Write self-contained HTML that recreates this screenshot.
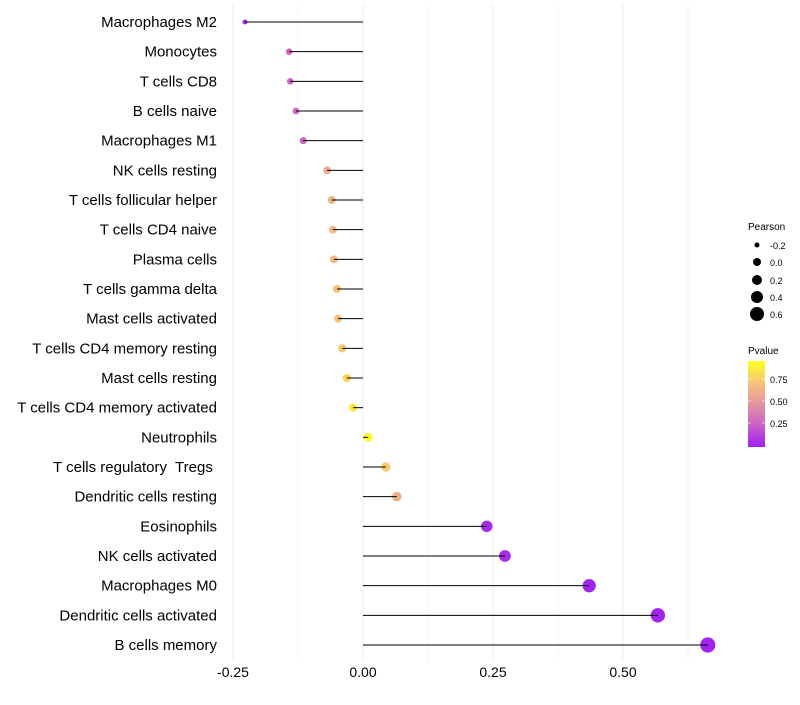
<!DOCTYPE html>
<html><head><meta charset="utf-8"><style>
body{margin:0;background:#fff;}
svg text{font-family:"Liberation Sans",sans-serif;white-space:pre;}
</style></head><body>
<svg id="chart" width="800" height="700">
<defs><linearGradient id="pg" x1="0" y1="1" x2="0" y2="0">
<stop offset="0" stop-color="#A020F0"/><stop offset="0.25" stop-color="#C95FC8"/><stop offset="0.5" stop-color="#E595A0"/><stop offset="0.75" stop-color="#F5C478"/><stop offset="1" stop-color="#FFFF20"/>
</linearGradient></defs>
<g id="grid"></g><g id="marks"></g><g id="labels"></g>
<g>
<text x="748" y="230" font-size="10">Pearson</text>
<circle cx="757" cy="245" r="2.5" fill="#000"/><text x="770" y="249" font-size="9">-0.2</text>
<circle cx="757" cy="262" r="4" fill="#000"/><text x="770" y="266" font-size="9">0.0</text>
<circle cx="757" cy="280" r="5" fill="#000"/><text x="770" y="284" font-size="9">0.2</text>
<circle cx="757" cy="297" r="6" fill="#000"/><text x="770" y="301" font-size="9">0.4</text>
<circle cx="757" cy="314" r="7" fill="#000"/><text x="770" y="318" font-size="9">0.6</text>
</g>
<g>
<text x="748" y="354" font-size="10">Pvalue</text>
<rect x="748" y="361" width="17" height="86" fill="url(#pg)"/>
<line x1="748" y1="379" x2="751" y2="379" stroke="#fff" opacity=".6"/><line x1="762" y1="379" x2="765" y2="379" stroke="#fff" opacity=".6"/>
<line x1="748" y1="401" x2="751" y2="401" stroke="#fff" opacity=".6"/><line x1="762" y1="401" x2="765" y2="401" stroke="#fff" opacity=".6"/>
<line x1="748" y1="423" x2="751" y2="423" stroke="#fff" opacity=".6"/><line x1="762" y1="423" x2="765" y2="423" stroke="#fff" opacity=".6"/>
<text x="770" y="383" font-size="9">0.75</text><text x="770" y="405" font-size="9">0.50</text><text x="770" y="427" font-size="9">0.25</text>
</g>
</svg>
<script>
const cells=["Macrophages M2","Monocytes","T cells CD8","B cells naive","Macrophages M1","NK cells resting","T cells follicular helper","T cells CD4 naive","Plasma cells","T cells gamma delta","Mast cells activated","T cells CD4 memory resting","Mast cells resting","T cells CD4 memory activated","Neutrophils","T cells regulatory  Tregs ","Dendritic cells resting","Eosinophils","NK cells activated","Macrophages M0","Dendritic cells activated","B cells memory"];
const pearson=[-0.227,-0.142,-0.140,-0.129,-0.115,-0.069,-0.060,-0.058,-0.056,-0.050,-0.048,-0.040,-0.031,-0.019,0.010,0.044,0.065,0.238,0.273,0.435,0.567,0.663];
const pvalue=[0.02,0.28,0.28,0.30,0.27,0.62,0.68,0.70,0.70,0.74,0.74,0.78,0.82,0.90,0.97,0.78,0.65,0.04,0.05,0.02,0.01,0.01];
const xticks=[-0.25,0,0.25,0.5];
const xtickLabels=["-0.25","0.00","0.25","0.50"];
const ns="http://www.w3.org/2000/svg";
const X=v=>363+v*520, Y=i=>22+i*29.667;
const R=v=>Math.sqrt(Math.max(19+58*v,2));
function col(p){const s=[[0,[160,32,240]],[0.25,[201,95,200]],[0.5,[229,149,160]],[0.75,[245,196,120]],[1,[255,255,32]]];
for(let i=0;i<4;i++){if(p<=s[i+1][0]){const t=(p-s[i][0])/(s[i+1][0]-s[i][0]);return 'rgb('+s[i][1].map((c,k)=>Math.round(c+(s[i+1][1][k]-c)*t)).join(',')+')';}}return 'rgb(255,255,32)';}
function mk(tag,a,parent){const e=document.createElementNS(ns,tag);for(const k in a)e.setAttribute(k,a[k]);document.getElementById(parent).appendChild(e);return e;}
[-0.25,-0.125,0,0.125,0.25,0.375,0.5,0.625].forEach(v=>{const l=mk('line',{x1:X(v),x2:X(v),y1:5,y2:660,stroke:(v*8)%2==0?'#ebebeb':'#f4f4f4','stroke-width':1},'grid');

});
xticks.forEach((v,i)=>{const t=mk('text',{x:X(v),y:677,'font-size':14,'text-anchor':'middle',fill:'#000'},'labels');t.textContent=xtickLabels[i];

});
cells.forEach((c,i)=>{const y=Y(i);
const d=mk('circle',{cx:X(pearson[i]),cy:y,r:R(pearson[i]),fill:col(pvalue[i])},'marks');


const l=mk('line',{x1:X(0),x2:X(pearson[i]),y1:y,y2:y,stroke:'#000','stroke-width':1},'marks');


const t=mk('text',{x:217,y:y+5,'font-size':15,'text-anchor':'end',fill:'#000'},'labels');t.textContent=c;

});
</script>
</body></html>
